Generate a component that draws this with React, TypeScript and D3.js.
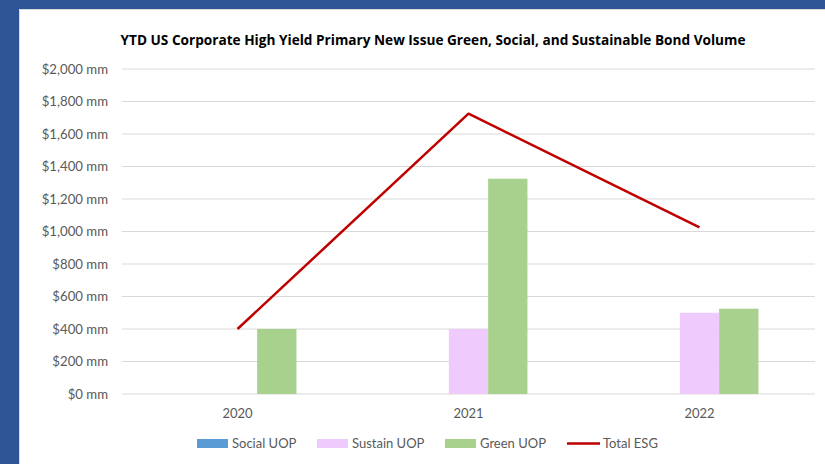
import React from "react";
import * as d3 from "d3";

const years = ["2020", "2021", "2022"];
const seriesNames = ["Social UOP", "Sustain UOP", "Green UOP"];
const socialUOP = [0, 0, 0];
const sustainUOP = [0, 400, 500];
const greenUOP = [400, 1325, 525];
const totalESG = [400, 1725, 1025];
const yTicks = [0, 200, 400, 600, 800, 1000, 1200, 1400, 1600, 1800, 2000];
const title = "YTD US Corporate High Yield Primary New Issue Green, Social, and Sustainable Bond Volume";

const colors = ["#5B9BD5", "#EFCBFD", "#A9D18E"];
const lineColor = "#C00000";

export default function App() {
  const W = 825, H = 464;
  const left = 122, right = 815, top = 69, bottom = 394;
  const x = d3.scaleBand<string>().domain(years).range([left, right]);
  const y = d3.scaleLinear().domain([0, 2000]).range([bottom, top]);
  const barW = 39.3;
  const seriesVals = [socialUOP, sustainUOP, greenUOP];
  const fmt = (v: number) => "$" + d3.format(",")(v) + " mm";
  const cx = (yr: string) => (x(yr) as number) + x.bandwidth() / 2;
  const line = d3.line<number>().x((_, i) => cx(years[i])).y((d) => y(d));
  const font = "Lato, 'Open Sans', sans-serif";
  const legend = [
    { name: seriesNames[0], color: colors[0], x: 197, tx: 232, type: "rect" },
    { name: seriesNames[1], color: colors[1], x: 317, tx: 352, type: "rect" },
    { name: seriesNames[2], color: colors[2], x: 445, tx: 480, type: "rect" },
    { name: "Total ESG", color: lineColor, x: 567, tx: 603, type: "line" },
  ];
  return (
    <svg width={W} height={H} style={{ position: "fixed", left: 0, top: 0 }} fontFamily={font}>
      <rect x={0} y={0} width={W} height={H} fill="#ffffff" />
      <rect x={0} y={0} width={W} height={9} fill="#2F5597" />
      <rect x={0} y={0} width={19} height={H} fill="#2F5597" />
      <line x1={19.5} y1={9.5} x2={W} y2={9.5} stroke="#d9d9d9" />
      <line x1={19.5} y1={9.5} x2={19.5} y2={H} stroke="#d9d9d9" />
      <text x={433} y={45} textAnchor="middle" fontSize={14} fontWeight="bold" fill="#000" fontFamily="'Open Sans', Lato, sans-serif" textLength={625} lengthAdjust="spacingAndGlyphs">
        {title}
      </text>
      {yTicks.map((t) => (
        <g key={t}>
          <line x1={left} x2={right} y1={y(t)} y2={y(t)} stroke="#d9d9d9" strokeWidth={1.2} />
          <text x={108} y={y(t)} dy="0.35em" textAnchor="end" fontSize={13.2} fill="#595959">
            {fmt(t)}
          </text>
        </g>
      ))}
      {years.map((yr) => (
        <text key={yr} x={cx(yr)} y={418} textAnchor="middle" fontSize={13} fill="#595959">
          {yr}
        </text>
      ))}
      {seriesVals.map((vals, si) =>
        vals.map((v, i) => {
          const x0 = cx(years[i]) - 1.5 * barW + si * barW;
          return v > 0 ? (
            <rect key={si + "-" + i} x={x0} y={y(v)} width={barW} height={y(0) - y(v)} fill={colors[si]} />
          ) : null;
        })
      )}
      <path d={line(totalESG) as string} fill="none" stroke={lineColor} strokeWidth={2.5} strokeLinejoin="round" />
      {legend.map((l) => (
        <g key={l.name}>
          {l.type === "rect" ? (
            <rect x={l.x} y={439} width={31} height={9} fill={l.color} />
          ) : (
            <line x1={l.x} x2={l.x + 33} y1={443.5} y2={443.5} stroke={l.color} strokeWidth={2.5} />
          )}
          <text x={l.tx} y={443.5} dy="0.35em" fontSize={13} fill="#595959">
            {l.name}
          </text>
        </g>
      ))}
    </svg>
  );
}
